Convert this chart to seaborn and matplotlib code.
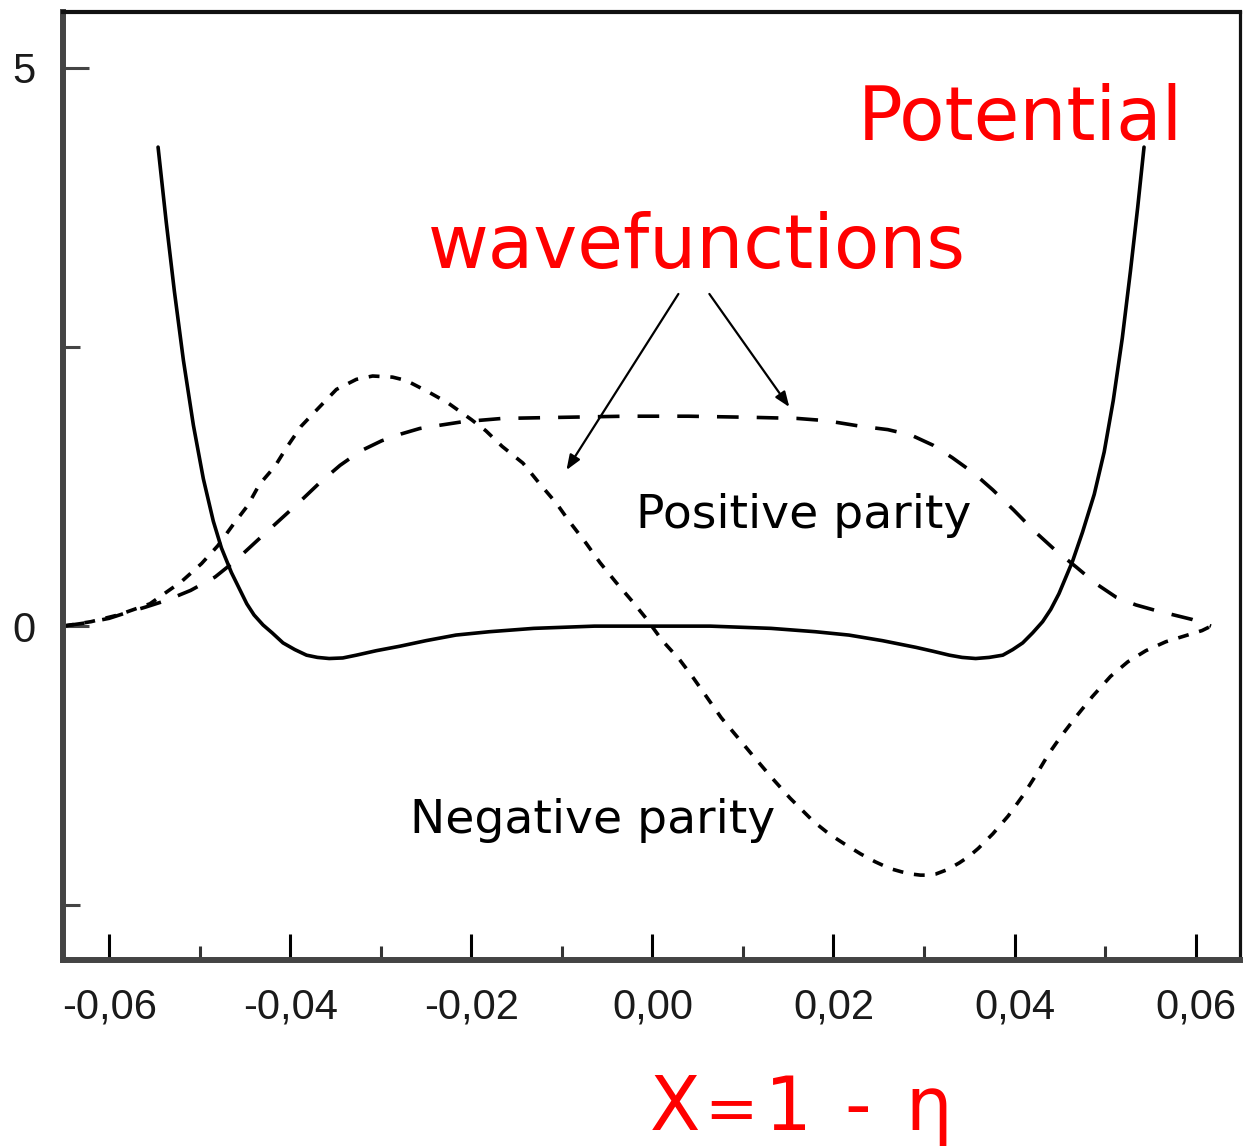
import numpy as np
import pandas as pd
import matplotlib
matplotlib.use("Agg")
import matplotlib.pyplot as plt
import seaborn as sns

# ---- data ----
pot_x = [-0.0546, -0.0537, -0.0528, -0.0518, -0.0507, -0.0496, -0.0485, -0.0476,
         -0.0465, -0.0448, -0.0440, -0.0430, -0.0420, -0.0408, -0.0395, -0.0382,
         -0.0370, -0.0357, -0.0342, -0.0327, -0.0305, -0.0279, -0.0250, -0.0217,
         -0.0180, -0.0131, -0.0064, 0.0000, 0.0064, 0.0131, 0.0180, 0.0217,
         0.0254, 0.0291, 0.0310, 0.0328, 0.0342, 0.0357, 0.0372, 0.0387,
         0.0398, 0.0409, 0.0420, 0.0431, 0.0440, 0.0449, 0.0464, 0.0475,
         0.0488, 0.0499, 0.0509, 0.0519, 0.0528, 0.0536, 0.0543]
pot_y = [4.29, 3.62, 3.00, 2.38, 1.80, 1.32, 0.94, 0.70,
         0.48, 0.20, 0.10, 0.01, -0.06, -0.15, -0.21, -0.26,
         -0.28, -0.29, -0.285, -0.26, -0.22, -0.18, -0.13, -0.08,
         -0.05, -0.02, 0.00, 0.00, 0.00, -0.02, -0.05, -0.08,
         -0.13, -0.19, -0.225, -0.26, -0.28, -0.29, -0.28, -0.26,
         -0.21, -0.15, -0.06, 0.04, 0.15, 0.29, 0.58, 0.84,
         1.18, 1.56, 2.02, 2.58, 3.18, 3.75, 4.29]

pos_x = [-0.0651, -0.0625, -0.0600, -0.0581, -0.0560, -0.0537, -0.0510, -0.0483,
         -0.0460, -0.0436, -0.0413, -0.0390, -0.0368, -0.0345, -0.0322, -0.0299,
         -0.0278, -0.0257, -0.0234, -0.0210, -0.0166, -0.0100, -0.0030, 0.0040,
         0.0110, 0.0160, 0.0192, 0.0230, 0.0260, 0.0286, 0.0310, 0.0331, 0.0355,
         0.0376, 0.0399, 0.0422, 0.0445, 0.0468, 0.0490, 0.0512, 0.0534, 0.0556,
         0.0576, 0.0596, 0.0617]
pos_y = [0.00, 0.03, 0.07, 0.12, 0.17, 0.23, 0.32, 0.44,
         0.59, 0.77, 0.94, 1.11, 1.28, 1.44, 1.57, 1.66,
         1.72, 1.77, 1.80, 1.83, 1.86, 1.87, 1.88, 1.88,
         1.87, 1.86, 1.84, 1.79, 1.76, 1.71, 1.62, 1.51, 1.37,
         1.22, 1.04, 0.85, 0.68, 0.53, 0.38, 0.26, 0.19, 0.14,
         0.10, 0.06, 0.00]

neg_x = [-0.0651, -0.0620, -0.0590, -0.0555, -0.0541, -0.0520, -0.0498, -0.0480,
         -0.0463, -0.0447, -0.0434, -0.0417, -0.0404, -0.0388, -0.0368, -0.0349,
         -0.0327, -0.0309, -0.0287, -0.0272, -0.0248, -0.0226, -0.0200, -0.0184,
         -0.0166, -0.0143, -0.0125, -0.0106, -0.0092, -0.0073, -0.0058, -0.0040,
         -0.0022, -0.0007, 0.0011, 0.0030, 0.0044, 0.0076, 0.0110, 0.0131,
         0.0152, 0.0178, 0.0195, 0.0212, 0.0230, 0.0246, 0.0262, 0.0275,
         0.0286, 0.0296, 0.0305, 0.0313, 0.0326, 0.0339, 0.0350, 0.0360,
         0.0376, 0.0393, 0.0409, 0.0424, 0.0438, 0.0451, 0.0468, 0.0486,
         0.0506, 0.0525, 0.0545, 0.0567, 0.0587, 0.0607, 0.0617]
neg_y = [0.00, 0.04, 0.10, 0.20, 0.28, 0.40, 0.56, 0.72,
         0.91, 1.08, 1.27, 1.43, 1.60, 1.79, 1.96, 2.12,
         2.21, 2.24, 2.23, 2.20, 2.10, 2.00, 1.85, 1.75,
         1.61, 1.46, 1.28, 1.10, 0.94, 0.74, 0.57, 0.39,
         0.22, 0.07, -0.13, -0.30, -0.45, -0.82, -1.15, -1.35,
         -1.54, -1.75, -1.86, -1.95, -2.04, -2.11, -2.17, -2.20,
         -2.22, -2.23, -2.23, -2.22, -2.18, -2.12, -2.06, -1.99,
         -1.86, -1.70, -1.52, -1.33, -1.14, -0.99, -0.81, -0.63,
         -0.45, -0.32, -0.22, -0.14, -0.09, -0.04, 0.00]

x_major = [-0.06, -0.04, -0.02, 0.00, 0.02, 0.04, 0.06]
x_major_labels = ["-0,06", "-0,04", "-0,02", "0,00", "0,02", "0,04", "0,06"]
x_minor = [-0.05, -0.03, -0.01, 0.01, 0.03, 0.05]
y_major = [0, 5]
y_major_labels = ["0", "5"]
y_minor = [-2.5, 2.5]

# ---- figure ----
sns.set_style("white")
plt.rcParams["font.family"] = ["DejaVu Sans"]

W, H = 1243, 1147
fig = plt.figure(figsize=(W / 100, H / 100), dpi=100)
ax = fig.add_axes([63 / W, 1 - 960 / H, (1240 - 63) / W, (960 - 12) / H])

df_pot = pd.DataFrame({"x": pot_x, "y": pot_y})
df_pos = pd.DataFrame({"x": pos_x, "y": pos_y})
df_neg = pd.DataFrame({"x": neg_x, "y": neg_y})

sns.lineplot(data=df_pot, x="x", y="y", ax=ax, sort=False, estimator=None,
             color="black", linewidth=2.6)
sns.lineplot(data=df_pos, x="x", y="y", ax=ax, sort=False, estimator=None,
             color="black", linewidth=2.6)
sns.lineplot(data=df_neg, x="x", y="y", ax=ax, sort=False, estimator=None,
             color="black", linewidth=2.6)
lines = ax.get_lines()
lines[0].set_solid_joinstyle("round")
lines[1].set_dashes((6.0, 5.0))
lines[2].set_dashes((3.0, 3.0))

ax.set_xlim(-0.0651, 0.0649)
ax.set_ylim(-2.99, 5.5)
ax.set_xlabel("")
ax.set_ylabel("")

ax.set_xticks(x_major)
ax.set_xticklabels(x_major_labels)
ax.set_xticks(x_minor, minor=True)
ax.set_yticks(y_major)
ax.set_yticklabels(y_major_labels)
ax.set_yticks(y_minor, minor=True)

for lab in ax.get_xticklabels() + ax.get_yticklabels():
    lab.set_fontfamily("Liberation Sans")
    lab.set_fontsize(30)
    lab.set_color("#1a1a1a")

ax.tick_params(axis="x", which="major", direction="in", length=19, width=2.2,
               color="black", pad=20, bottom=True, top=False)
ax.tick_params(axis="x", which="minor", direction="in", length=10, width=2.2,
               color="#333333", bottom=True, top=False)
ax.tick_params(axis="y", which="major", direction="in", length=19, width=2.2,
               color="#444444", pad=20, left=True, right=False)
ax.tick_params(axis="y", which="minor", direction="in", length=12, width=2.2,
               color="#444444", left=True, right=False)

for side in ["left", "bottom"]:
    ax.spines[side].set_color("#444444")
    ax.spines[side].set_linewidth(4.3)
ax.spines["top"].set_color("#111111")
ax.spines["top"].set_linewidth(3.0)
ax.spines["right"].set_color("#111111")
ax.spines["right"].set_linewidth(2.3)

# ---- annotations ----
def fx(px):
    return px / W

def fy(py):
    return 1 - py / H

fig.text(fx(858), fy(140), "Potential", color="red", fontsize=53.5,
         ha="left", va="baseline", family="DejaVu Sans")
fig.text(fx(428), fy(268), "wavefunctions", color="red", fontsize=53.5,
         ha="left", va="baseline", family="DejaVu Sans")
fig.text(fx(636), fy(528), "Positive parity", color="black", fontsize=34,
         ha="left", va="baseline", family="DejaVu Sans")
fig.text(fx(410), fy(833), "Negative parity", color="black", fontsize=34,
         ha="left", va="baseline", family="DejaVu Sans")

# "X=1 - η" placed glyph by glyph to keep the wide spacing of the original
label_parts = ["X", "=", "1", "-", "\u03b7"]
label_centers = [675, 731, 788, 858, 929]
label_sizes = [53, 46, 53, 53, 53]
for part, cx, fs in zip(label_parts, label_centers, label_sizes):
    fig.text(fx(cx), fy(1130), part, color="red", fontsize=fs,
             ha="center", va="baseline", family="DejaVu Sans")

def px2data(px, py):
    return ((px - 653) / 9060.0, (626 - py) / 111.6)

arrow_props = dict(arrowstyle="-|>,head_length=0.9,head_width=0.35",
                   color="black", lw=1.6, shrinkA=0, shrinkB=0)
ax.annotate("", xy=px2data(567, 470), xytext=px2data(679, 294),
            arrowprops=arrow_props)
ax.annotate("", xy=px2data(790, 407), xytext=px2data(710, 294),
            arrowprops=arrow_props)

fig.savefig("out.png", dpi=100)
